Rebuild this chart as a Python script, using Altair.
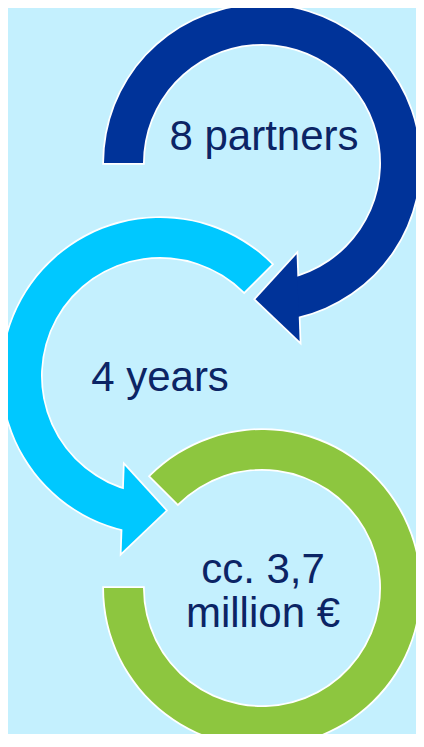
import altair as alt
import pandas as pd

# ---- content -------------------------------------------------------------
labels = ["8 partners", "4 years", "cc. 3,7", "million €"]
label_x = [264, 160, 263, 263]
label_y = [150, 391, 583, 627]

ring_names = ["partners", "years", "budget"]
ring_colors = ["#003399", "#00C8FF", "#8DC63F"]
ring_cx = [262, 160, 262]
ring_cy = [163, 376, 588]
ring_start = [270, 192.8, 315]     # degrees, clockwise from 12 o'clock
ring_end = [527, 405, 630]
ring_outer = [158, 158, 158]
ring_inner = [119, 119, 119]

arrow_ring = ["partners", "years"]
arrow_color = ["#003399", "#00C8FF"]
arrow_cx = [262, 160]
arrow_cy = [163, 376]
arrow_at = [165, 195.5]            # position on ring, degrees
arrow_r = [139.5, 138]
arrow_dir = [268, 92]              # pointing direction, degrees

BG = "#C4F0FE"
TEXT = "#0B2465"
W, H = 408, 726
ARROW_PATH = "M-1,0L0,-0.98L1,0Z"
ARROW_SIZE = 87 * 87

rings = pd.DataFrame({
    "name": ring_names, "col": ring_colors, "cx": ring_cx, "cy": ring_cy,
    "a0": ring_start, "a1": ring_end, "ro": ring_outer, "ri": ring_inner,
})
arrows = pd.DataFrame({
    "name": arrow_ring, "col": arrow_color, "cx": arrow_cx, "cy": arrow_cy,
    "at": arrow_at, "r": arrow_r, "dir": arrow_dir,
})
texts = pd.DataFrame({"label": labels, "x": label_x, "y": label_y})

xs = alt.Scale(domain=[8, 8 + W], nice=False, zero=False)
ys = alt.Scale(domain=[8, 8 + H], nice=False, zero=False, reverse=True)


def ring_layer(outline):
    base = alt.Chart(rings).transform_calculate(
        t0="datum.a0 * PI / 180", t1="datum.a1 * PI / 180"
    )
    kw = dict(stroke="white", strokeWidth=3.5, strokeJoin="miter") if outline else dict(strokeWidth=0)
    return base.mark_arc(**kw).encode(
        x=alt.X("cx:Q", scale=xs, axis=None),
        y=alt.Y("cy:Q", scale=ys, axis=None),
        theta=alt.Theta("t0:Q", scale=None),
        theta2="t1:Q",
        radius=alt.Radius("ro:Q", scale=None),
        radius2="ri:Q",
        color=alt.Color("col:N", scale=None),
    )


def arrow_layer(outline):
    base = alt.Chart(arrows).transform_calculate(
        px="datum.cx + datum.r * sin(datum.at * PI / 180)",
        py="datum.cy - datum.r * cos(datum.at * PI / 180)",
    )
    kw = dict(stroke="white", strokeWidth=3.5, strokeJoin="miter") if outline else dict(strokeWidth=0)
    return base.mark_point(
        shape=ARROW_PATH, filled=True, opacity=1, size=ARROW_SIZE, **kw
    ).encode(
        x=alt.X("px:Q", scale=xs, axis=None),
        y=alt.Y("py:Q", scale=ys, axis=None),
        angle=alt.Angle("dir:Q", scale=None),
        color=alt.Color("col:N", scale=None),
    )


text_layer = alt.Chart(texts).mark_text(
    font="Liberation Sans", fontSize=42, color=TEXT,
    align="center", baseline="alphabetic",
).encode(
    x=alt.X("x:Q", scale=xs, axis=None),
    y=alt.Y("y:Q", scale=ys, axis=None),
    text="label:N",
)

chart = alt.layer(
    ring_layer(True), arrow_layer(True),
    ring_layer(False), arrow_layer(False),
    text_layer,
).properties(
    width=W, height=H, padding=0,
    autosize=alt.AutoSizeParams(type="none"),
    background=BG,
).configure_view(stroke=None, fill=BG)

chart.save("out.html", embed_options={"renderer": "svg", "actions": False})
